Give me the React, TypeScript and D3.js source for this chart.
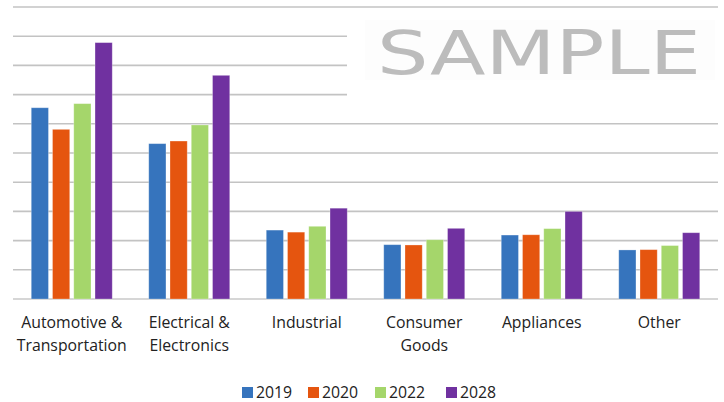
import React from "react";
import * as d3 from "d3";

const categories = [
  ["Automotive &", "Transportation"],
  ["Electrical &", "Electronics"],
  ["Industrial"],
  ["Consumer", "Goods"],
  ["Appliances"],
  ["Other"],
];
const seriesNames = ["2019", "2020", "2022", "2028"];
const colors = ["#3674BD", "#E5550F", "#A5D66B", "#7031A0"];
const v2019 = [6.55, 5.32, 2.36, 1.86, 2.19, 1.68];
const v2020 = [5.81, 5.41, 2.29, 1.85, 2.2, 1.69];
const v2022 = [6.69, 5.96, 2.49, 2.03, 2.41, 1.83];
const v2028 = [8.78, 7.66, 3.11, 2.42, 3.0, 2.27];
const seriesValues = [v2019, v2020, v2022, v2028];
const gridTicks = [0, 1, 2, 3, 4, 5, 6, 7, 8, 9, 10];

const W = 724;
const H = 402;
const font = "'Open Sans', 'Noto Sans', sans-serif";

export default function App() {
  const x0 = d3
    .scaleBand<number>()
    .domain(categories.map((_, i) => i))
    .range([13, 718]);
  const groupW = 81;
  const x1 = d3
    .scaleBand<number>()
    .domain(seriesNames.map((_, i) => i))
    .range([0, groupW])
    .paddingInner(0.19);
  const y = d3.scaleLinear().domain([0, 10]).range([299, 7]);

  const legendX = [242, 308, 375, 446];

  return (
    <svg
      width={W}
      height={H}
      style={{ position: "absolute", left: 0, top: 0, background: "#fff" }}
    >
      {gridTicks.map((t) => (
        <line
          key={t}
          x1={13}
          x2={718}
          y1={y(t)}
          y2={y(t)}
          stroke={t === 0 ? "#d6d6d6" : "#c3c3c3"}
          strokeWidth={t === 0 ? 2 : 1.6}
        />
      ))}
      {/* watermark */}
      <rect x={347} y={18} width={371} height={90} fill="#ffffff" />
      <rect x={365} y={20} width={350} height={60} fill="#fdfdfd" />
      <text
        x={377}
        y={73.5}
        fontFamily="'DejaVu Sans', 'Liberation Sans', sans-serif"
        fontSize={61}
        fill="#bcbcbc"
        textLength={324}
        lengthAdjust="spacingAndGlyphs"
      >
        SAMPLE
      </text>
      {categories.map((_, ci) => {
        const gx = x0(ci)! + (x0.bandwidth() - groupW) / 2;
        return seriesValues.map((vals, si) => (
          <rect
            key={`${ci}-${si}`}
            x={gx + x1(si)!}
            y={y(vals[ci])}
            width={x1.bandwidth()}
            height={y(0) - y(vals[ci])}
            fill={colors[si]}
            stroke="#ffffff"
            strokeOpacity={0.35}
            strokeWidth={0.8}
          />
        ));
      })}
      {categories.map((lines, ci) => (
        <text
          key={ci}
          x={x0(ci)! + x0.bandwidth() / 2}
          y={328}
          textAnchor="middle"
          fontFamily={font}
          fontSize={15.8}
          fill="#222"
        >
          {lines.map((l, li) => (
            <tspan key={li} x={x0(ci)! + x0.bandwidth() / 2} dy={li === 0 ? 0 : 23}>
              {l}
            </tspan>
          ))}
        </text>
      ))}
      {seriesNames.map((s, si) => (
        <g key={s}>
          <rect x={legendX[si]} y={387} width={11} height={11} fill={colors[si]} />
          <text
            x={legendX[si] + 14}
            y={398}
            fontFamily={font}
            fontSize={15.8}
            fill="#222"
          >
            {s}
          </text>
        </g>
      ))}
    </svg>
  );
}
